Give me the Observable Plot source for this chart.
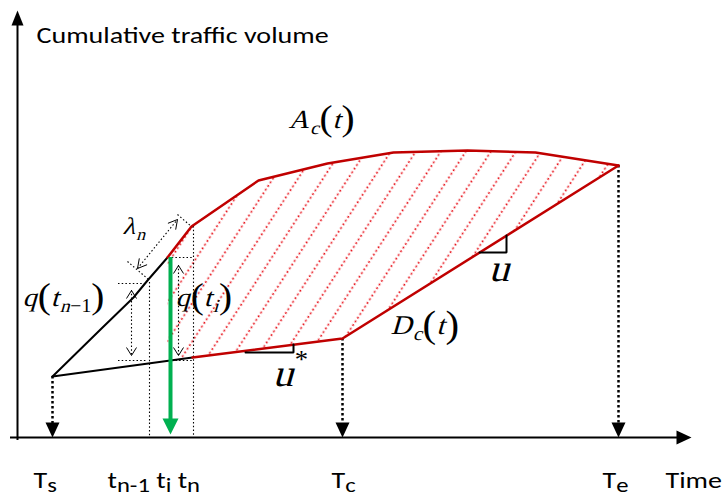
<!DOCTYPE html>
<html><head><meta charset="utf-8">
<script src="https://cdn.jsdelivr.net/npm/d3@7"></script>
<script src="https://cdn.jsdelivr.net/npm/@observablehq/plot@0.6"></script>
<style>body{margin:0;background:#fff}</style>
</head><body><div id="chart"></div>
<script>
// ---------- data (time t, cumulative volume v) ----------
const approachT = [35, 83, 116, 130, 150];          // arrival curve before control (black)
const approachV = [61, 108, 140, 157, 180];
const arrivalT  = [150, 174, 241, 310, 376, 450, 518, 601];   // A_c(t) (red)
const arrivalV  = [180, 211, 257, 274, 285, 287, 285, 272];
const baseT     = [35, 175];                         // departure before control (black)
const baseV     = [61, 80];
const departT   = [175, 325, 601];                   // D_c(t) (red)
const departV   = [80, 99, 272];

const eventNames = ["Ts", "Tc", "Te"];
const eventT     = [35, 325, 601];
const eventV     = [61, 99, 272];

const stepNames  = ["t_{n-1}", "t_{i}", "t_{n}"];
const stepT      = [132, 153, 176];
const stepV      = [155, 180, 211];

const axisXRange = [-7, 660, 674];   // start, end of line, arrow tip
const axisYRange = [-3, 413, 427];

// q brackets
const qLevelT1 = [101, 151];
const qLevelT2 = [130, 175];
const qTopV    = [154, 180];
const qBotV    = [77, 77];
const qArrowT  = [114, 161];
const qArrowTop = [147, 172];
const qArrowBot = [82, 82];

// lambda_n
const lambdaT = [120, 160];
const lambdaV = [169, 218];
const lambdaTickT1 = [110, 160];
const lambdaTickV1 = [176, 223];
const lambdaTickT2 = [131, 175];
const lambdaTickV2 = [158, 210];

// slope marks
const uMarkT = [462, 489, 489];
const uMarkV = [185, 185, 202];
const uStarT = [228, 276, 276];
const uStarV = [85, 85, 93];

// labels
const sansText = ["Cumulative traffic volume", "T_{s}", "t_{n-1} t_{i} t_{n}", "T_{c}", "T_{e}", "Time"];
const sansT    = [19, 16, 90, 314, 585, 648];
const sansV    = [395, -50, -50, -50, -50, -50];
const mathText = ["A_{c}(t)", "D_{c}(t)", "λ_{n}", "q(t_{n−1})", "q(t_{i})", "u", "u^{*}"];
const mathT    = [271, 373, 105, 5, 158, 471, 255];
const mathV    = [310, 104, 204, 132, 132, 157, 52];

// ---------- styles ----------
const RED = "#c00000", HATCH = "#e8141c", GREEN = "#00b050";
const SANS = "Carlito, Lato, sans-serif", SERIF = "'Liberation Serif', serif";
const SANS_STRETCH = 1.22, MATH_STRETCH = 1.08;
const mathSize = {"A_{c}(t)": 26, "D_{c}(t)": 27, "λ_{n}": 24, "q(t_{n−1})": 26, "q(t_{i})": 26, "u": 38, "u^{*}": 38};

const pts = (T, V) => T.map((t, i) => ({t, v: V[i]}));
const approach = pts(approachT, approachV);
const arrival = pts(arrivalT, arrivalV);
const base = pts(baseT, baseV);
const depart = pts(departT, departV);
const events = pts(eventT, eventV);
const steps = pts(stepT, stepV);
const baseAt = (t) => baseV[0] + (baseV[1] - baseV[0]) * (t - baseT[0]) / (baseT[1] - baseT[0]);
const hatch = [...arrival, ...depart.slice().reverse(), {t: arrivalT[0], v: baseAt(arrivalT[0])}];

function tri(dir, len, hw) {
  return {draw(ctx) {
    const p = {down: [[0,0],[-hw,-len],[hw,-len]], up: [[0,0],[-hw,len],[hw,len]], right: [[0,0],[-len,-hw],[-len,hw]]}[dir];
    ctx.moveTo(p[0][0], p[0][1]); ctx.lineTo(p[1][0], p[1][1]); ctx.lineTo(p[2][0], p[2][1]); ctx.closePath();
  }};
}
function chevron(angleDeg, len, hw) {
  const a = angleDeg * Math.PI / 180, c = Math.cos(a), s = Math.sin(a);
  return {draw(ctx) {
    ctx.moveTo(-len*c - hw*s, -len*s + hw*c);
    ctx.lineTo(0, 0);
    ctx.lineTo(-len*c + hw*s, -len*s - hw*c);
  }};
}
const lamAngle = Math.atan2(-(lambdaV[1]-lambdaV[0]), lambdaT[1]-lambdaT[0]) * 180 / Math.PI;

const thinDot = {stroke: "#000", strokeWidth: 1.1, strokeDasharray: "1.5,2.2"};
const qH = qLevelT1.flatMap((t1, i) => [{t1, t2: qLevelT2[i], v: qTopV[i]}, {t1, t2: qLevelT2[i], v: qBotV[i]}]);
const qA = qArrowT.map((t, i) => ({t, top: qArrowTop[i], bot: qArrowBot[i]}));
const lamTicks = lambdaTickT1.map((t, i) => ({t1: t, v1: lambdaTickV1[i], t2: lambdaTickT2[i], v2: lambdaTickV2[i]}));

const svg = Plot.plot({
  width: 723, height: 498, margin: 0,
  x: {domain: [-17, 706], range: [0, 723], axis: null},
  y: {domain: [-61, 437], range: [498, 0], axis: null},
  style: {background: "#fff", overflow: "visible"},
  marks: [
    Plot.line(hatch, {x: "t", y: "v", fill: "url(#hatch)", stroke: "none"}),
    // axes
    Plot.ruleY([0], {x1: axisXRange[0], x2: axisXRange[1], stroke: "#000", strokeWidth: 2}),
    Plot.ruleX([0], {y1: axisYRange[0], y2: axisYRange[1], stroke: "#000", strokeWidth: 2}),
    Plot.dot([{t: axisXRange[2], v: 0}], {x: "t", y: "v", symbol: tri("right", 15, 7), fill: "#000", stroke: "none"}),
    Plot.dot([{t: 0, v: axisYRange[2]}], {x: "t", y: "v", symbol: tri("up", 15, 6), fill: "#000", stroke: "none"}),
    // thin dotted verticals at t_{n-1}, t_n
    Plot.ruleX([steps[0], steps[2]], {x: "t", y1: "v", y2: 0, ...thinDot}),
    // q brackets
    Plot.ruleY(qH, {y: "v", x1: "t1", x2: "t2", ...thinDot}),
    Plot.ruleX(qA, {x: "t", y1: "top", y2: "bot", ...thinDot}),
    Plot.dot(qA, {x: "t", y: "top", symbol: chevron(-90, 8, 5), fill: "none", stroke: "#000", strokeWidth: 1}),
    Plot.dot(qA, {x: "t", y: "bot", symbol: chevron(90, 8, 5), fill: "none", stroke: "#000", strokeWidth: 1}),
    // lambda
    Plot.link(lamTicks, {x1: "t1", y1: "v1", x2: "t2", y2: "v2", ...thinDot}),
    Plot.link([{}], {x1: lambdaT[0], y1: lambdaV[0], x2: lambdaT[1], y2: lambdaV[1], ...thinDot}),
    Plot.dot([{t: lambdaT[1], v: lambdaV[1]}], {x: "t", y: "v", symbol: chevron(lamAngle, 9, 5), fill: "none", stroke: "#000", strokeWidth: 1}),
    Plot.dot([{t: lambdaT[0], v: lambdaV[0]}], {x: "t", y: "v", symbol: chevron(lamAngle + 180, 9, 5), fill: "none", stroke: "#000", strokeWidth: 1}),
    // event drops
    Plot.ruleX(events, {x: "t", y1: "v", y2: 6, stroke: "#000", strokeWidth: 2.5, strokeDasharray: "2.5,2.5"}),
    Plot.dot(events, {x: "t", y: 0, symbol: tri("down", 15, 7), fill: "#000", stroke: "none"}),
    // curves
    Plot.line(approach, {x: "t", y: "v", stroke: "#000", strokeWidth: 2}),
    Plot.line(base, {x: "t", y: "v", stroke: "#000", strokeWidth: 2}),
    Plot.line(arrival, {x: "t", y: "v", stroke: RED, strokeWidth: 2.5}),
    Plot.line(depart, {x: "t", y: "v", stroke: RED, strokeWidth: 2.5}),
    // slope marks
    Plot.line(pts(uMarkT, uMarkV), {x: "t", y: "v", stroke: "#000", strokeWidth: 2, strokeLinejoin: "miter"}),
    Plot.line(pts(uStarT, uStarV), {x: "t", y: "v", stroke: "#000", strokeWidth: 2, strokeLinejoin: "miter"}),
    // green arrow at t_i
    Plot.ruleX([steps[1]], {x: "t", y1: "v", y2: 12, stroke: GREEN, strokeWidth: 4}),
    Plot.dot([steps[1]], {x: "t", y: 3, symbol: tri("down", 16, 8), fill: GREEN, stroke: "none"}),
    // labels
    Plot.text(pts(sansT, sansV).map((d, i) => ({...d, label: sansText[i]})), {x: "t", y: "v", text: "label", textAnchor: "start", lineAnchor: "bottom", fontFamily: SANS, fontSize: 23, fill: "#000"}),
    Plot.text(pts(mathT, mathV).map((d, i) => ({...d, label: mathText[i]})), {x: "t", y: "v", text: "label", textAnchor: "start", lineAnchor: "bottom", fontFamily: SERIF, fontSize: 26, fill: "#000"})
  ]
});
document.getElementById("chart").appendChild(svg);

// hatch pattern
const defs = d3.select(svg).insert("defs", ":first-child");
const pat = defs.append("pattern").attr("id", "hatch").attr("patternUnits", "userSpaceOnUse")
  .attr("width", 21).attr("height", 8.8).attr("patternTransform", "rotate(33)");
pat.append("line").attr("x1", 10.5).attr("x2", 10.5).attr("y1", 0).attr("y2", 8.8)
  .attr("stroke", HATCH).attr("stroke-width", 1.6).attr("stroke-dasharray", "2 2.4");

// rich text (subscripts, italics)
const NS = "http://www.w3.org/2000/svg";
function parseRich(s) {
  const out = []; let i = 0;
  const isMark = (k) => (s[k] === "_" || s[k] === "^") && s[k+1] === "{";
  while (i < s.length) {
    if (isMark(i)) {
      const j = s.indexOf("}", i);
      out.push({text: s.slice(i+2, j), mode: s[i] === "_" ? "sub" : "sup"});
      i = j + 1;
    } else {
      let j = i; while (j < s.length && !isMark(j)) j++;
      out.push({text: s.slice(i, j), mode: "base"}); i = j;
    }
  }
  return out;
}
function splitRuns(str) {
  const kind = (ch) => /[A-Za-zλ]/.test(ch) ? "italic" : /[()]/.test(ch) ? "paren" : "plain";
  const runs = [];
  for (const ch of str) {
    const k = kind(ch);
    if (runs.length && runs[runs.length-1].kind === k && k !== "paren") runs[runs.length-1].text += ch;
    else runs.push({text: ch, kind: k});
  }
  return runs;
}
function anchorOf(el) {
  const tr = el.getAttribute("transform") || "";
  const m = /translate\(\s*([-\d.e]+)[\s,]+([-\d.e]+)\s*\)/.exec(tr);
  if (m) return [+m[1], +m[2]];
  return [parseFloat(el.getAttribute("x")) || 0, parseFloat(el.getAttribute("y")) || 0];
}
// sans labels: tspans with subscripts
function richSans(el, cfg) {
  const segs = parseRich(el.textContent);
  while (el.firstChild) el.removeChild(el.firstChild);
  el.style.fontFamily = cfg.family;
  let offset = 0;
  for (const seg of segs) {
    const size = cfg.size * (seg.mode === "base" ? 1 : cfg.subScale);
    const target = seg.mode === "sub" ? cfg.size * cfg.subShift : 0;
    const ts = document.createElementNS(NS, "tspan");
    ts.style.fontFamily = cfg.family;
    ts.style.fontSize = size + "px";
    const dy = target - offset;
    if (dy) ts.setAttribute("dy", dy);
    offset = target;
    ts.textContent = seg.text;
    el.appendChild(ts);
  }
  const [x, y] = anchorOf(el);
  el.removeAttribute("x"); el.removeAttribute("y");
  el.setAttribute("transform", `translate(${x},${y}) scale(${cfg.stretch},1)`);
}
// math labels: separate runs, italic letters by slanting
function richMath(el, cfg) {
  const label = el.textContent;
  const [X, Y] = anchorOf(el);
  const g = document.createElementNS(NS, "g");
  g.setAttribute("transform", `translate(${X},${Y}) scale(${cfg.stretch},1)`);
  g.setAttribute("aria-label", label);
  el.parentNode.replaceChild(g, el);
  let cursor = 0;
  for (const seg of parseRich(label)) {
    const size = cfg.size * (seg.mode === "base" ? 1 : seg.mode === "sub" ? cfg.subScale : cfg.supScale);
    const yoff = seg.mode === "sub" ? cfg.size * cfg.subShift : seg.mode === "sup" ? -cfg.size * cfg.supShift : 0;
    for (const r of splitRuns(seg.text)) {
      const t = document.createElementNS(NS, "text");
      const fs = r.kind === "paren" ? size * cfg.parenScale : size;
      const dy = yoff + (r.kind === "paren" ? fs * 0.08 : 0);
      t.style.fontFamily = cfg.family;
      t.style.fontSize = fs + "px";
      t.style.fontStyle = "normal";
      t.setAttribute("fill", "#000");
      t.setAttribute("text-anchor", "start");
      t.textContent = r.text;
      t.setAttribute("transform", `translate(${cursor},${dy})` + (r.kind === "italic" ? " skewX(-15)" : ""));
      g.appendChild(t);
      cursor += t.getComputedTextLength() + (r.kind === "italic" ? fs * 0.04 : 0);
    }
  }
}
Array.from(svg.querySelectorAll("text")).forEach((el) => {
  const s = el.textContent;
  if (sansText.includes(s)) richSans(el, {family: SANS, size: 23, stretch: SANS_STRETCH, subScale: 0.88, subShift: 0.18});
  else if (mathText.includes(s)) richMath(el, {family: SERIF, size: mathSize[s], stretch: MATH_STRETCH, subScale: 0.7, subShift: 0.25, supScale: 0.65, supShift: 0.47, parenScale: 1.4});
});
</script></body></html>
